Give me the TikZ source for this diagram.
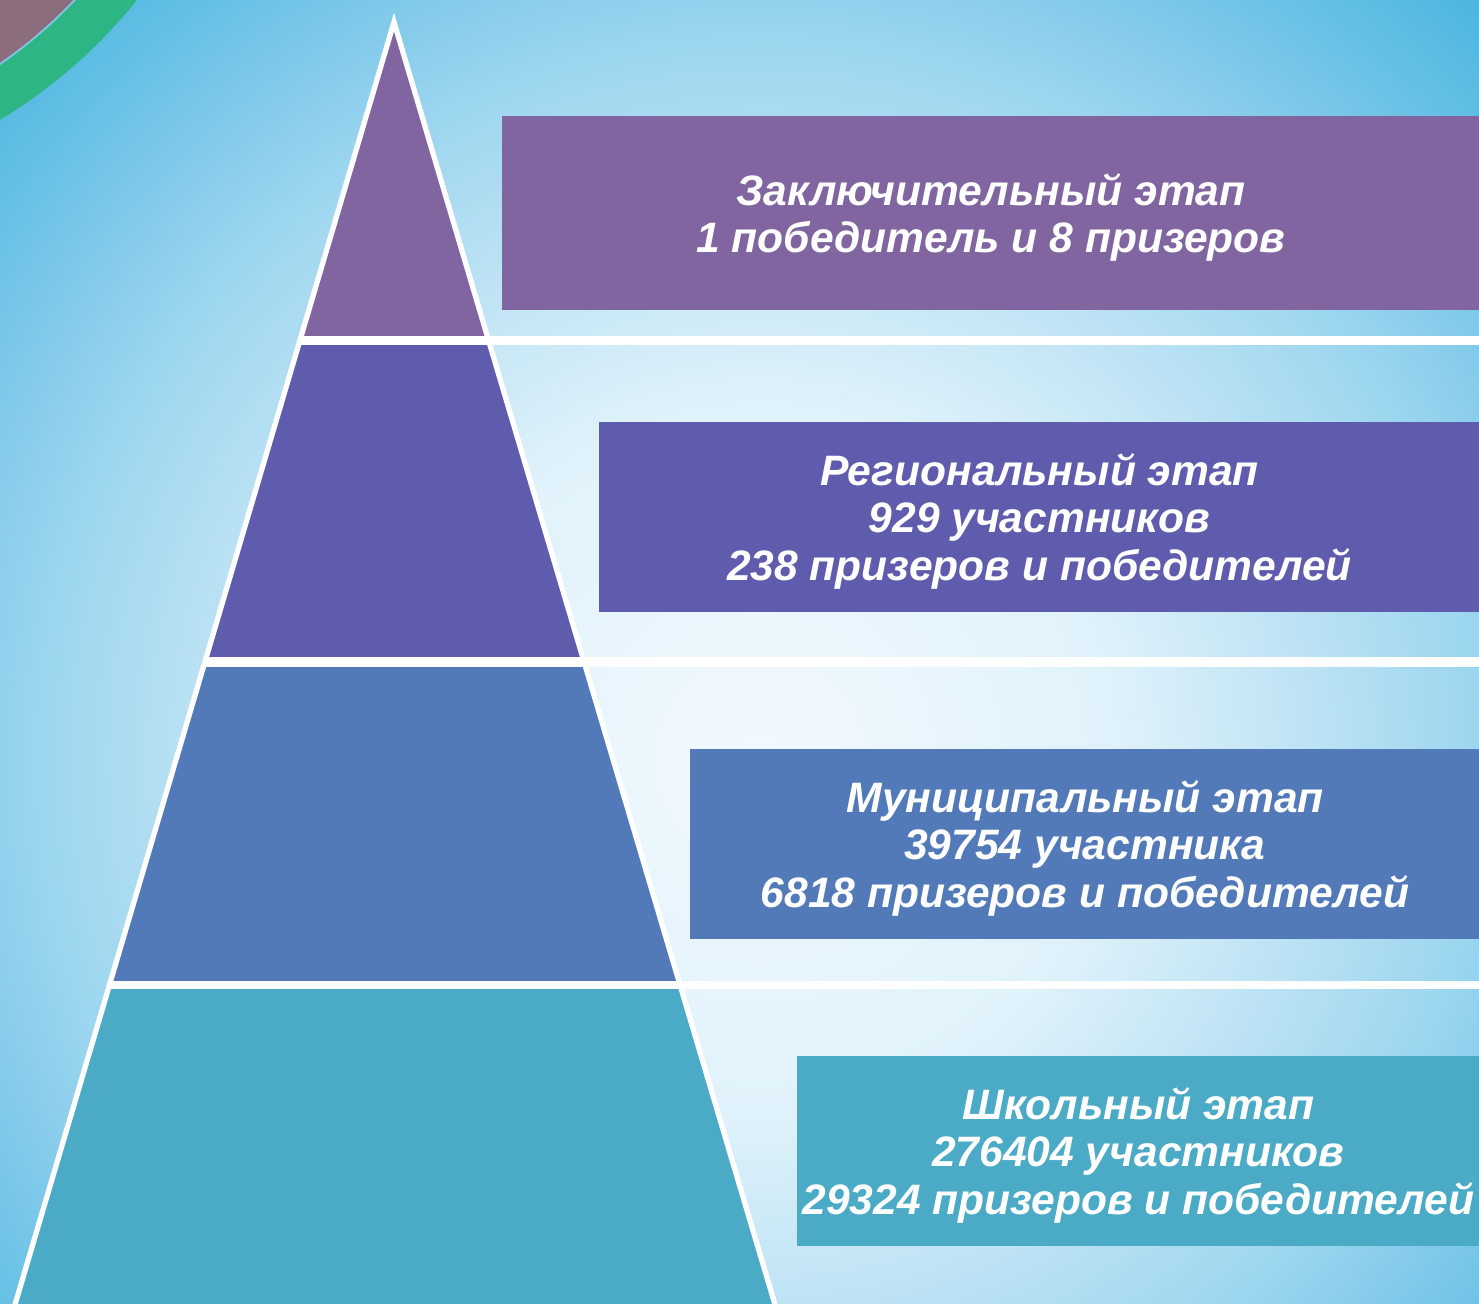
\documentclass[tikz,border=0pt]{standalone}
\usepackage{fontspec}
\setmainfont{Liberation Sans}
\usepackage{tikz}
\usetikzlibrary{positioning, calc}

\definecolor{finalc}{HTML}{8065A0}
\definecolor{regionc}{HTML}{5F5BAD}
\definecolor{municc}{HTML}{527AB9}
\definecolor{schoolc}{HTML}{4BABC6}
\definecolor{glowcentre}{HTML}{F2F9FE}
\definecolor{glowa}{HTML}{E0F2FB}
\definecolor{glowb}{HTML}{C5E6F5}
\definecolor{glowc}{HTML}{9BD5EF}
\definecolor{glowd}{HTML}{7FC9E9}
\definecolor{glowedge}{HTML}{48B5E0}
\definecolor{arcmauve}{HTML}{8C6D7D}
\definecolor{arcgreen}{HTML}{2EB584}
\definecolor{arcline}{HTML}{7FC6E6}
\pgfdeclareradialshading{bgglow}{\pgfpoint{0bp}{0bp}}{color(0bp)=(glowcentre); color(8bp)=(glowa); color(11.5bp)=(glowb); color(16.5bp)=(glowc); color(19bp)=(glowd); color(24bp)=(glowedge); color(50bp)=(glowedge)}
\newcommand{\stagefont}{\fontsize{12.1}{13.4}\selectfont\bfseries\itshape}

\begin{document}
\begin{tikzpicture}[x=0.01cm, y=-0.01cm,
    stagebox/.style={rectangle, inner sep=0pt, minimum height=1.9cm, anchor=west, text=white, text depth=0pt, align=center, font=\stagefont},
    bar/.style={fill=white}]
    \useasboundingbox (0,0) rectangle (1479,1304);
    % background
    \begin{scope}
        \clip (0,0) rectangle (1479,1304);
        \shade[shading=bgglow] (760,760) circle (11cm);
        \fill[arcgreen] (-265,-321) circle (5.14cm);
        \fill[arcline] (-265,-321) circle (4.68cm);
        \fill[arcmauve] (-265,-321) circle (4.66cm);
    \end{scope}

    % pyramid
    \coordinate (apex) at (394,22);
    \coordinate (baseL) at (14,1308);
    \coordinate (baseR) at (776,1308);
    \begin{scope}
        \clip (apex) -- (baseL) -- (baseR) -- cycle;
        \fill[finalc] (0,0) rectangle (1479,340);
        \fill[regionc] (0,340) rectangle (1479,662);
        \fill[municc] (0,662) rectangle (1479,985);
        \fill[schoolc] (0,985) rectangle (1479,1308);
    \end{scope}
    \draw[white, line width=1.5pt, line join=miter, miter limit=20] (apex) -- (baseL) -- (baseR) -- cycle;
    \begin{scope}
        \clip (apex) -- (baseL) -- (1479,1308) -- (1479,0) -- cycle;
        \fill[bar] (0,336) rectangle (1479,345);
        \fill[bar] (0,657) rectangle (1479,667);
        \fill[bar] (0,981) rectangle (1479,989);
    \end{scope}

    % stages
    \node[stagebox, fill=finalc, minimum width=9.78cm, minimum height=1.94cm] (finalbox) at (501,213) {Заключительный этап\\1 победитель и 8 призеров};
    \node[stagebox, fill=regionc, minimum width=8.81cm] (regionbox) at (598,517) {Региональный этап\\929 участников\\238 призеров и победителей};
    \node[stagebox, fill=municc, minimum width=7.90cm] (municbox) at (689,844) {Муниципальный этап\\39754 участника\\6818 призеров и победителей};
    \node[stagebox, fill=schoolc, minimum width=6.83cm] (schoolbox) at (796,1151) {Школьный этап\\276404 участников\\29324 призеров и победителей};
\end{tikzpicture}
\end{document}
